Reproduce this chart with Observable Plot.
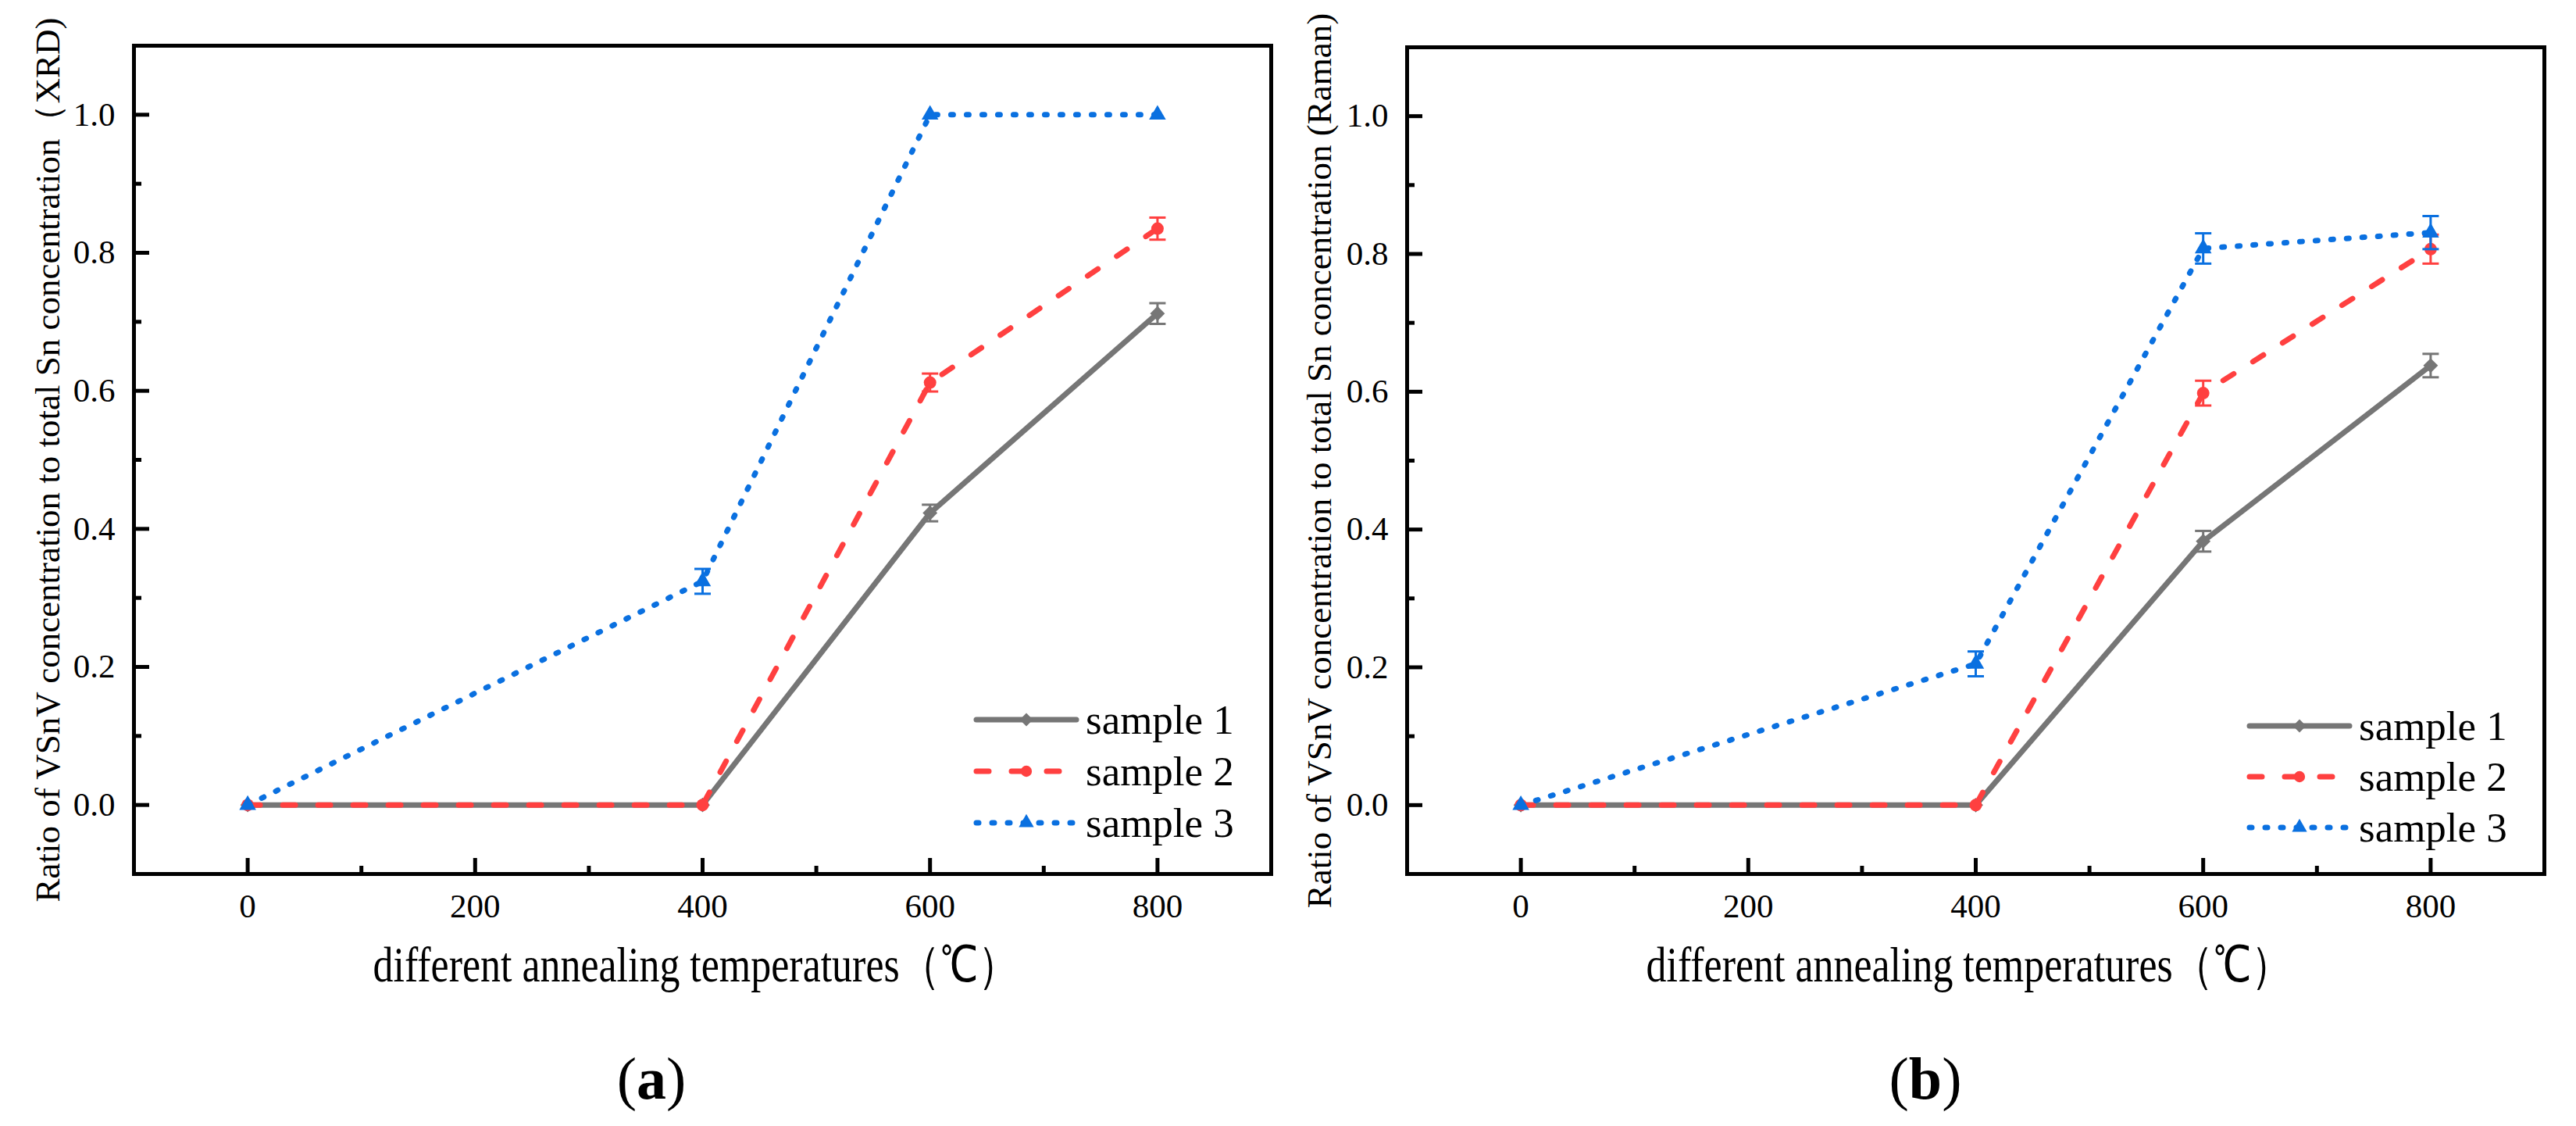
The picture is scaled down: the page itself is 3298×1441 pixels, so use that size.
<!DOCTYPE html>
<html>
<head>
<meta charset="utf-8">
<script src="https://cdn.jsdelivr.net/npm/d3@7"></script>
<script src="https://cdn.jsdelivr.net/npm/@observablehq/plot@0.6"></script>
<style>
  body { margin: 0; background: #fff; }
  #wrap { position: relative; width: 3298px; height: 1441px; }
  .panel { position: absolute; top: 0; }
  #wrap svg, #wrap svg text { font-family: "Liberation Serif", "Times New Roman", serif !important; }
  .tag { position: absolute; top: 1380px; transform: translate(-50%, -50%);
         font-family: "Liberation Serif", "Times New Roman", serif; font-size: 76px; line-height: 1; }
</style>
</head>
<body>
<div id="wrap">
  <div id="vis1" class="panel" style="left:0px"></div>
  <div id="vis2" class="panel" style="left:1649px"></div>
  <div class="tag" style="left:834px">(<b>a</b>)</div>
  <div class="tag" style="left:2465px">(<b>b</b>)</div>
</div>
<script>
// annealing temperatures (x)
const temps = [0, 400, 600, 800]
const seriesNames = ["sample 1", "sample 2", "sample 3"]

// (a) XRD
const xrdSample1 = [0, 0, 0.423, 0.712]
const xrdSample1Err = [0, 0, 0.012, 0.015]
const xrdSample2 = [0, 0, 0.612, 0.835]
const xrdSample2Err = [0, 0, 0.013, 0.016]
const xrdSample3 = [0, 0.324, 1.0, 1.0]
const xrdSample3Err = [0, 0.018, 0, 0]

// (b) Raman
const ramanSample1 = [0, 0, 0.383, 0.638]
const ramanSample1Err = [0, 0, 0.015, 0.017]
const ramanSample2 = [0, 0, 0.598, 0.807]
const ramanSample2Err = [0, 0, 0.018, 0.021]
const ramanSample3 = [0, 0.205, 0.808, 0.831]
const ramanSample3Err = [0, 0.018, 0.022, 0.024]

// axes
const xTicks = [0, 200, 400, 600, 800]
const xMinor = [100, 300, 500, 700]
const yTicks = [0, 0.2, 0.4, 0.6, 0.8, 1.0]
const yMinor = [0.1, 0.3, 0.5, 0.7, 0.9]
const xTitle = "different annealing temperatures（℃）"

// styles per series
const colors = ["#767676", "#ff4040", "#0a70e0"]
const dashes = [null, "16,29", "3,17"]
const symbols = ["diamond2", "circle", "triangle"]
const symbolR = [8.5, 8, 8]
const d3Symbols = [d3.symbolDiamond2, d3.symbolCircle, d3.symbolTriangle]

const font = '"Liberation Serif", "Times New Roman", serif'

// horizontal error bar cap
const capSymbol = {
  draw(context, size) {
    const w = Math.sqrt(size / Math.PI)
    context.moveTo(-w, 0)
    context.lineTo(w, 0)
  }
}

function makeRows(values, errs) {
  return temps.map((t, i) => ({temp: t, value: values[i], err: errs[i]}))
}

function drawPanel(sel, cfg) {
  const width = 1649, height = 1300
  const frameW = width - cfg.marginLeft - cfg.marginRight
  const frameH = height - cfg.marginTop - cfg.marginBottom

  const seriesMarks = cfg.series.flatMap((s, i) => {
    const rows = makeRows(s.values, s.errs)
    const withErr = rows.filter(d => d.err > 0)
    return [
      Plot.line(rows, {x: "temp", y: "value", stroke: colors[i], strokeWidth: 7,
        strokeDasharray: dashes[i], strokeLinecap: i === 0 ? "butt" : "round", strokeLinejoin: "round"}),
      Plot.ruleX(withErr, {x: "temp", y1: d => d.value - d.err, y2: d => d.value + d.err,
        stroke: colors[i], strokeWidth: 3}),
      Plot.dot(withErr, {x: "temp", y: d => d.value + d.err, symbol: capSymbol, r: 10.5,
        fill: "none", stroke: colors[i], strokeWidth: 3}),
      Plot.dot(withErr, {x: "temp", y: d => d.value - d.err, symbol: capSymbol, r: 10.5,
        fill: "none", stroke: colors[i], strokeWidth: 3}),
      Plot.dot(rows, {x: "temp", y: "value", symbol: symbols[i], r: symbolR[i], fill: colors[i]})
    ]
  })

  const plot = Plot.plot({
    width, height,
    marginLeft: cfg.marginLeft, marginRight: cfg.marginRight,
    marginTop: cfg.marginTop, marginBottom: cfg.marginBottom,
    style: {fontFamily: font, fontSize: "42px", color: "black", background: "white"},
    x: {domain: [-100, 900]},
    y: {domain: [-0.1, 1.1]},
    marks: [
      // inward ticks
      Plot.tickX(xMinor, {x: d => d, insetTop: frameH - 10, stroke: "black", strokeWidth: 5}),
      Plot.tickX(xTicks, {x: d => d, insetTop: frameH - 20, stroke: "black", strokeWidth: 5}),
      Plot.tickY(yMinor, {y: d => d, insetRight: frameW - 10, stroke: "black", strokeWidth: 5}),
      Plot.tickY(yTicks, {y: d => d, insetRight: frameW - 20, stroke: "black", strokeWidth: 5}),
      Plot.axisX({ticks: xTicks, tickSize: 0, tickPadding: 25, tickFormat: d => String(d), label: null,
        fontSize: 43, fontFamily: font, fontVariant: "normal"}),
      Plot.axisY({ticks: yTicks, tickSize: 0, tickPadding: 24, tickFormat: d3.format(".1f"), label: null,
        fontSize: 43, fontFamily: font, fontVariant: "normal"}),
      ...seriesMarks,
      Plot.frame({stroke: "black", strokeWidth: 5}),
      Plot.text([xTitle], {text: d => d, frameAnchor: "bottom", dx: -9, dy: 137, fontSize: 64,
        textAnchor: "middle", lineAnchor: "bottom", fontFamily: font}),
      Plot.text([cfg.yTitle], {text: d => d, frameAnchor: "left", rotate: -90, dx: cfg.yTitleDx,
        fontSize: 45, textAnchor: "middle", lineAnchor: "middle", fontFamily: font})
    ]
  })

  const svg = d3.select(plot)

  // the x title in the original is set in a narrow face
  svg.selectAll("text").filter(function () { return this.textContent === xTitle })
    .attr("textLength", 826).attr("lengthAdjust", "spacingAndGlyphs")

  // legend inside the frame, bottom right
  const lx = cfg.marginLeft + 1079
  const g = svg.append("g")
  seriesNames.forEach((name, i) => {
    const y = cfg.marginTop + cfg.legendTop + i * cfg.legendStep
    g.append("line")
      .attr("x1", lx).attr("x2", lx + 128).attr("y1", y).attr("y2", y)
      .attr("stroke", colors[i]).attr("stroke-width", 7)
      .attr("stroke-dasharray", dashes[i])
      .attr("stroke-linecap", "round")
    g.append("path")
      .attr("transform", `translate(${lx + 64},${y})`)
      .attr("d", d3.symbol().type(d3Symbols[i]).size(Math.PI * symbolR[i] * symbolR[i] * 0.8)())
      .attr("fill", colors[i])
    g.append("text")
      .attr("x", cfg.marginLeft + 1219).attr("y", y + 18)
      .attr("text-anchor", "start")
      .attr("font-family", font)
      .attr("font-size", 53).attr("fill", "black")
      .text(name)
  })

  const div = document.querySelector(sel)
  div.innerText = ''
  div.append(plot)
}

drawPanel("#vis1", {
  marginLeft: 171, marginRight: 22, marginTop: 58, marginBottom: 182,
  yTitle: "Ratio of VSnV concentration to total Sn concentration（XRD)", yTitleDx: -110,
  legendTop: 863, legendStep: 66,
  series: [
    {values: xrdSample1, errs: xrdSample1Err},
    {values: xrdSample2, errs: xrdSample2Err},
    {values: xrdSample3, errs: xrdSample3Err}
  ]
})

drawPanel("#vis2", {
  marginLeft: 152, marginRight: 41, marginTop: 60, marginBottom: 182,
  yTitle: "Ratio of VSnV concentration to total Sn concentration (Raman)", yTitleDx: -112,
  legendTop: 869, legendStep: 65,
  series: [
    {values: ramanSample1, errs: ramanSample1Err},
    {values: ramanSample2, errs: ramanSample2Err},
    {values: ramanSample3, errs: ramanSample3Err}
  ]
})
</script>
</body>
</html>
